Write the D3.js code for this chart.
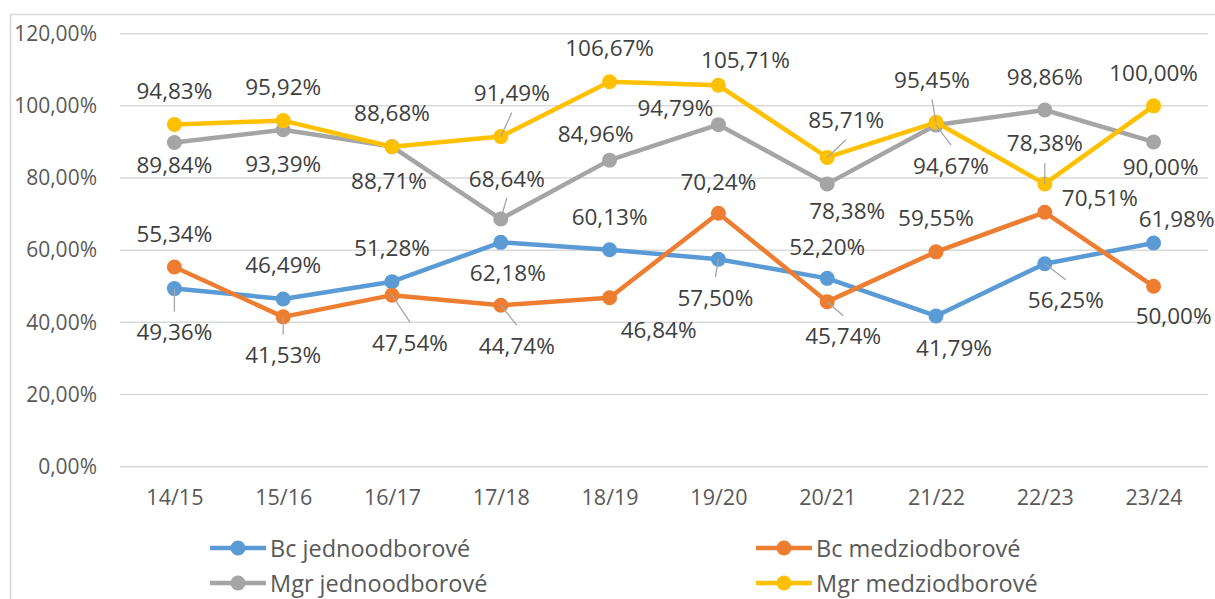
<!DOCTYPE html>
<html>
<head>
<meta charset="utf-8">
<script src="https://cdn.jsdelivr.net/npm/d3@7"></script>
<style>
  body { margin: 0; background: #fff; }
  svg { display: block; font-family: "Open Sans", sans-serif; }
</style>
</head>
<body>
<div id="chart"></div>
<script>
// academic years
const categories = ['14/15', '15/16', '16/17', '17/18', '18/19', '19/20', '20/21', '21/22', '22/23', '23/24'];

// values in percent
const bcJedno = [49.36, 46.49, 51.28, 62.18, 60.13, 57.50, 52.20, 41.79, 56.25, 61.98];
const bcMedzi = [55.34, 41.53, 47.54, 44.74, 46.84, 70.24, 45.74, 59.55, 70.51, 50.00];
const mgrJedno = [89.84, 93.39, 88.71, 68.64, 84.96, 94.79, 78.38, 94.67, 98.86, 90.00];
const mgrMedzi = [94.83, 95.92, 88.68, 91.49, 106.67, 105.71, 85.71, 95.45, 78.38, 100.00];

const seriesNames = ['Bc jednoodborové', 'Bc medziodborové', 'Mgr jednoodborové', 'Mgr medziodborové'];
const yTicks = [0, 20, 40, 60, 80, 100, 120];

// label placement (offset of label centre from the point) + leader flag
const labelPos = {
  'Bc jednoodborové': [[0,43,1],[0,-34],[0,-34],[7,30],[0,-33],[-3,38,1],[0,-32],[18,32],[21,36,1],[23,-25]],
  'Bc medziodborové': [[0,-34],[0,38,1],[18,47,1],[16,40,1],[49,32],[0,-32],[16,34,1],[0,-34],[55,-15],[20,29]],
  'Mgr jednoodborové': [[0,22],[0,34],[-3,34],[6,-41,1],[-14,-27],[-43,-17],[20,27],[15,40,1],[0,-33],[7,25]],
  'Mgr medziodborové': [[0,-34],[0,-34],[0,-34],[11,-44,1],[0,-34],[27,-26],[19,-38,1],[-4,-43,1],[0,-41,1],[0,-33]]
};

const colors = ['#5b9bd5', '#ed7d31', '#a5a5a5', '#ffc000'];
const allValues = [bcJedno, bcMedzi, mgrJedno, mgrMedzi];

const width = 1215, height = 599;
const fmt = v => d3.format('.2f')(v).replace('.', ',') + '%';

const svg = d3.select('#chart').append('svg')
    .attr('width', width)
    .attr('height', height);

// chart border (cut off on right/bottom like the source)
svg.append('rect')
    .attr('x', 10.5).attr('y', 14.5)
    .attr('width', 1220).attr('height', 620)
    .attr('fill', 'none')
    .attr('stroke', '#d9d9d9')
    .attr('stroke-width', 1.5);

const x = d3.scalePoint()
    .domain(categories)
    .range([120, 1208])
    .padding(0.5);

const y = d3.scaleLinear()
    .domain([0, 120])
    .range([466.7, 33.7]);

// gridlines
svg.append('g')
  .selectAll('line')
  .data(yTicks)
  .join('line')
    .attr('x1', 120).attr('x2', 1208)
    .attr('y1', d => y(d)).attr('y2', d => y(d))
    .attr('stroke', '#d9d9d9')
    .attr('stroke-width', 1.5);

// y axis labels
const yAxis = d3.axisLeft(y).tickValues(yTicks).tickSize(0).tickPadding(0).tickFormat(fmt);
svg.append('g')
    .attr('transform', 'translate(97,0)')
    .call(yAxis)
    .call(g => g.select('.domain').remove())
    .selectAll('text')
    .attr('fill', '#595959')
    .style('font-size', '21px')
    .style('font-family', '"Open Sans", sans-serif');

// x axis labels
const xAxis = d3.axisBottom(x).tickSize(0).tickPadding(0);
svg.append('g')
    .attr('transform', 'translate(0,497)')
    .call(xAxis)
    .call(g => g.select('.domain').remove())
    .selectAll('text')
    .attr('dy', '0.35em')
    .attr('fill', '#595959')
    .style('font-size', '21.5px')
    .style('font-family', '"Open Sans", sans-serif');

const line = d3.line()
    .x((d, i) => x(categories[i]))
    .y(d => y(d));

seriesNames.forEach((name, s) => {
  const vals = allValues[s];
  const g = svg.append('g');

  g.append('path')
      .datum(vals)
      .attr('d', line)
      .attr('fill', 'none')
      .attr('stroke', colors[s])
      .attr('stroke-width', 4.5)
      .attr('stroke-linejoin', 'round');

  g.selectAll('circle')
    .data(vals)
    .join('circle')
      .attr('cx', (d, i) => x(categories[i]))
      .attr('cy', d => y(d))
      .attr('r', 7.5)
      .attr('fill', colors[s]);
});

// labels and leader lines on top
seriesNames.forEach((name, s) => {
  const vals = allValues[s];
  const pos = labelPos[name];
  const g = svg.append('g');

  vals.forEach((v, i) => {
    const px = x(categories[i]), py = y(v);
    const [dx, dy, leader] = pos[i];
    const lx = px + dx, ly = py + dy;
    if (leader) {
      g.append('line')
          .attr('x1', px).attr('y1', py)
          .attr('x2', lx).attr('y2', ly + (dy > 0 ? -20 : 20))
          .attr('stroke', '#a6a6a6')
          .attr('stroke-width', 1.3);
    }
    g.append('text')
        .attr('x', lx).attr('y', ly)
        .attr('text-anchor', 'middle')
        .attr('dominant-baseline', 'central')
        .attr('fill', '#404040')
        .style('font-size', '22.5px')
        .text(fmt(v));
  });
});

// legend
const legendX = [210, 756];
const legendY = [548, 583];
const legend = svg.append('g');
seriesNames.forEach((name, s) => {
  const lx = legendX[s % 2], ly = legendY[Math.floor(s / 2)];
  const item = legend.append('g').attr('transform', `translate(${lx},${ly})`);
  item.append('line')
      .attr('x1', 0).attr('x2', 56)
      .attr('stroke', colors[s])
      .attr('stroke-width', 4.5);
  item.append('circle')
      .attr('cx', 28).attr('r', 7.5)
      .attr('fill', colors[s]);
  item.append('text')
      .attr('x', 60)
      .attr('dominant-baseline', 'central')
      .attr('fill', '#595959')
      .style('font-size', '23.5px')
      .text(name);
});
</script>
</body>
</html>
